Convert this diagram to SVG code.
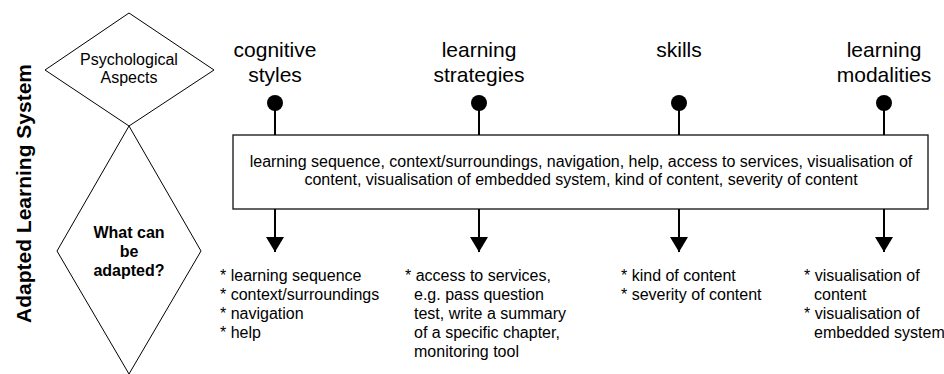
<svg xmlns="http://www.w3.org/2000/svg" width="944" height="374" viewBox="0 0 944 374">
  <style>
    text { font-family: "Liberation Sans", Arial, sans-serif; fill: #000; }
    .shape { fill: #fff; stroke: #000; stroke-width: 1; }
    .box { fill: #fff; stroke: #222; stroke-width: 1.4; }
    .title { font-size: 21px; text-anchor: middle; }
    .body { font-size: 16px; }
    .mid { text-anchor: middle; }
    .bold { font-weight: bold; }
    .wire { stroke: #000; stroke-width: 2; fill: none; }
    .dot { fill: #000; }
  </style>
  <defs>
    <!-- filled triangle, tip at the end of the line -->
    <marker id="arrow" viewBox="0 0 15 18" refX="15" refY="9" markerWidth="15" markerHeight="18" markerUnits="userSpaceOnUse" orient="auto">
      <path d="M0,0 L15,9 L0,18 Z" fill="#000"/>
    </marker>
  </defs>

  <!-- side label -->
  <g id="system-label">
    <text class="bold" font-size="21" text-anchor="middle" transform="translate(31,193.5) rotate(-90)">Adapted Learning System</text>
  </g>

  <!-- lower diamond -->
  <g id="what-can-be-adapted">
    <polygon class="shape" points="129,126 201,251 129,374 57,251"/>
    <text class="body bold mid" x="129" y="238">What can</text>
    <text class="body bold mid" x="129" y="257">be</text>
    <text class="body bold mid" x="129" y="276">adapted?</text>
  </g>

  <!-- upper diamond -->
  <g id="psychological-aspects">
    <polygon class="shape" points="129,13 214,70 129,126 45,70"/>
    <text class="body mid" x="129" y="65">Psychological</text>
    <text class="body mid" x="129" y="83">Aspects</text>
  </g>

  <!-- aspect headings -->
  <g id="cognitive-styles">
    <text class="title" x="275" y="57">cognitive</text>
    <text class="title" x="275" y="82">styles</text>
  </g>
  <g id="learning-strategies">
    <text class="title" x="479" y="57">learning</text>
    <text class="title" x="479" y="82">strategies</text>
  </g>
  <g id="skills">
    <text class="title" x="679" y="57">skills</text>
  </g>
  <g id="learning-modalities">
    <text class="title" x="884" y="57">learning</text>
    <text class="title" x="884" y="82">modalities</text>
  </g>

  <!-- adaptable features box -->
  <g id="adaptable-features">
    <rect class="box" x="233" y="135" width="695" height="74"/>
    <text class="body mid" x="581" y="167">learning sequence, context/surroundings, navigation, help, access to services, visualisation of</text>
    <text class="body mid" x="581" y="185">content, visualisation of embedded system, kind of content, severity of content</text>
  </g>

  <!-- connectors: dot on top, arrow below -->
  <g id="connectors">
    <circle class="dot" cx="275" cy="103" r="8"/>
    <circle class="dot" cx="479" cy="103" r="8"/>
    <circle class="dot" cx="679" cy="103" r="8"/>
    <circle class="dot" cx="884" cy="103" r="8"/>
    <line class="wire" x1="275" y1="108" x2="275" y2="135"/>
    <line class="wire" x1="479" y1="108" x2="479" y2="135"/>
    <line class="wire" x1="679" y1="108" x2="679" y2="135"/>
    <line class="wire" x1="884" y1="108" x2="884" y2="135"/>
    <line class="wire" x1="275" y1="209" x2="275" y2="252" marker-end="url(#arrow)"/>
    <line class="wire" x1="479" y1="209" x2="479" y2="252" marker-end="url(#arrow)"/>
    <line class="wire" x1="679" y1="209" x2="679" y2="252" marker-end="url(#arrow)"/>
    <line class="wire" x1="884" y1="209" x2="884" y2="252" marker-end="url(#arrow)"/>
  </g>

  <!-- per-aspect lists -->
  <g id="list-cognitive-styles">
    <text class="body" x="220" y="281">* learning sequence</text>
    <text class="body" x="220" y="300">* context/surroundings</text>
    <text class="body" x="220" y="319">* navigation</text>
    <text class="body" x="220" y="338">* help</text>
  </g>
  <g id="list-learning-strategies">
    <text class="body" x="405" y="281">* access to services,</text>
    <text class="body" x="414" y="300">e.g. pass question</text>
    <text class="body" x="414" y="319">test, write a summary</text>
    <text class="body" x="414" y="338">of a specific chapter,</text>
    <text class="body" x="414" y="357">monitoring tool</text>
  </g>
  <g id="list-skills">
    <text class="body" x="621" y="281">* kind of content</text>
    <text class="body" x="621" y="300">* severity of content</text>
  </g>
  <g id="list-learning-modalities">
    <text class="body" x="804" y="281">* visualisation of</text>
    <text class="body" x="814" y="300">content</text>
    <text class="body" x="804" y="319">* visualisation of</text>
    <text class="body" x="814" y="338">embedded system</text>
  </g>
</svg>
